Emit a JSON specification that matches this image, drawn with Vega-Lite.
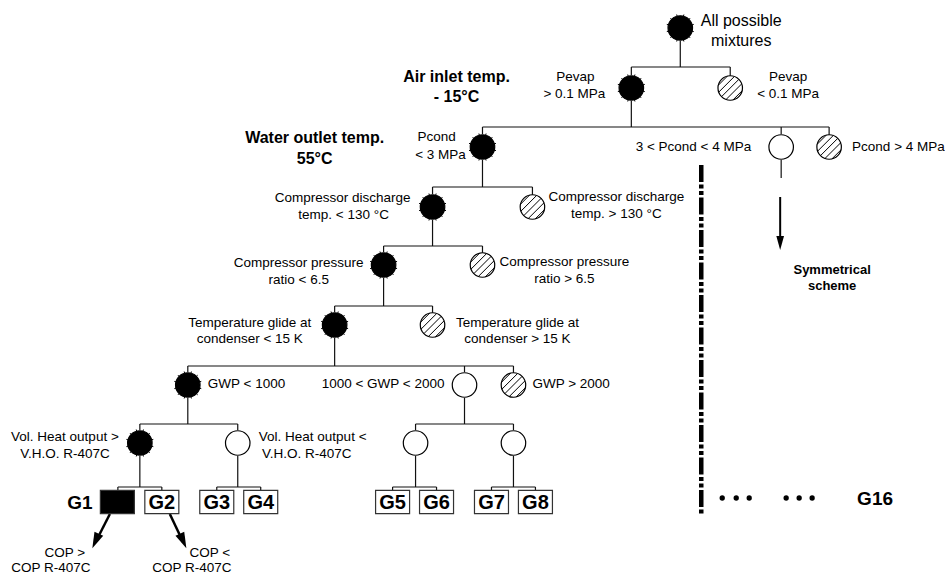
{
  "$schema": "https://vega.github.io/schema/vega-lite/v6.json",
  "width": 945,
  "height": 576,
  "padding": 0,
  "autosize": {"type": "fit", "contains": "padding"},
  "background": "white",
  "config": {"view": {"stroke": null}},
  "datasets": {
    "edges": [
      {"x": 681, "y": 41, "x2": 681, "y2": 67}, {"x": 632, "y": 67, "x2": 731, "y2": 67}, {"x": 632, "y": 67, "x2": 632, "y2": 75}, {"x": 731, "y": 67, "x2": 731, "y2": 76},
      {"x": 632, "y": 101, "x2": 632, "y2": 127}, {"x": 483, "y": 127, "x2": 830, "y2": 127}, {"x": 483, "y": 127, "x2": 483, "y2": 134}, {"x": 782, "y": 127, "x2": 782, "y2": 134}, {"x": 830, "y": 127, "x2": 830, "y2": 135},
      {"x": 782, "y": 160, "x2": 782, "y2": 178},
      {"x": 483, "y": 160, "x2": 483, "y2": 187}, {"x": 433, "y": 187, "x2": 533, "y2": 187}, {"x": 433, "y": 187, "x2": 433, "y2": 194}, {"x": 533, "y": 187, "x2": 533, "y2": 195},
      {"x": 433, "y": 220, "x2": 433, "y2": 246}, {"x": 384, "y": 246, "x2": 483, "y2": 246}, {"x": 384, "y": 246, "x2": 384, "y2": 252}, {"x": 483, "y": 246, "x2": 483, "y2": 253},
      {"x": 384, "y": 278, "x2": 384, "y2": 306}, {"x": 335, "y": 306, "x2": 433, "y2": 306}, {"x": 335, "y": 306, "x2": 335, "y2": 312}, {"x": 433, "y": 306, "x2": 433, "y2": 313},
      {"x": 335, "y": 338, "x2": 335, "y2": 366}, {"x": 188, "y": 366, "x2": 514, "y2": 366}, {"x": 188, "y": 366, "x2": 188, "y2": 372}, {"x": 465, "y": 366, "x2": 465, "y2": 372}, {"x": 514, "y": 366, "x2": 514, "y2": 373},
      {"x": 188, "y": 398, "x2": 188, "y2": 424}, {"x": 140, "y": 424, "x2": 238, "y2": 424}, {"x": 140, "y": 424, "x2": 140, "y2": 430}, {"x": 238, "y": 424, "x2": 238, "y2": 430},
      {"x": 465, "y": 398, "x2": 465, "y2": 424}, {"x": 416, "y": 424, "x2": 514, "y2": 424}, {"x": 416, "y": 424, "x2": 416, "y2": 430}, {"x": 514, "y": 424, "x2": 514, "y2": 430},
      {"x": 140, "y": 456, "x2": 140, "y2": 487}, {"x": 118, "y": 487, "x2": 162, "y2": 487}, {"x": 118, "y": 487, "x2": 118, "y2": 491}, {"x": 162, "y": 487, "x2": 162, "y2": 491},
      {"x": 238, "y": 456, "x2": 238, "y2": 487}, {"x": 217, "y": 487, "x2": 261, "y2": 487}, {"x": 217, "y": 487, "x2": 217, "y2": 491}, {"x": 261, "y": 487, "x2": 261, "y2": 491},
      {"x": 416, "y": 456, "x2": 416, "y2": 487}, {"x": 393, "y": 487, "x2": 437, "y2": 487}, {"x": 393, "y": 487, "x2": 393, "y2": 491}, {"x": 437, "y": 487, "x2": 437, "y2": 491},
      {"x": 514, "y": 456, "x2": 514, "y2": 487}, {"x": 492, "y": 487, "x2": 536, "y2": 487}, {"x": 492, "y": 487, "x2": 492, "y2": 491}, {"x": 536, "y": 487, "x2": 536, "y2": 491}
    ],
    "nodes": [
      {"x": 681, "y": 28, "kind": "filled"},
      {"x": 632, "y": 88, "kind": "filled"}, {"x": 731, "y": 88, "kind": "hatch"},
      {"x": 483, "y": 147, "kind": "filled"}, {"x": 782, "y": 147, "kind": "open"}, {"x": 830, "y": 147, "kind": "hatch"},
      {"x": 433, "y": 207, "kind": "filled"}, {"x": 533, "y": 207, "kind": "hatch"},
      {"x": 384, "y": 265, "kind": "filled"}, {"x": 483, "y": 265, "kind": "hatch"},
      {"x": 335, "y": 325, "kind": "filled"}, {"x": 433, "y": 325, "kind": "hatch"},
      {"x": 188, "y": 385, "kind": "filled"}, {"x": 465, "y": 385, "kind": "open"}, {"x": 514, "y": 385, "kind": "hatch"},
      {"x": 140, "y": 443, "kind": "filled"}, {"x": 238, "y": 443, "kind": "open"},
      {"x": 416, "y": 443, "kind": "open"}, {"x": 514, "y": 443, "kind": "open"}
    ],
    "boxes": [
      {"x": 117.5, "y": 502, "g": "G1", "kind": "filled"},
      {"x": 162, "y": 502, "g": "G2", "kind": "open"},
      {"x": 217, "y": 502, "g": "G3", "kind": "open"},
      {"x": 261, "y": 502, "g": "G4", "kind": "open"},
      {"x": 393, "y": 502, "g": "G5", "kind": "open"},
      {"x": 437, "y": 502, "g": "G6", "kind": "open"},
      {"x": 492, "y": 502, "g": "G7", "kind": "open"},
      {"x": 536, "y": 502, "g": "G8", "kind": "open"}
    ]
  },
  "layer": [
    {
      "data": {"name": "edges"},
      "mark": {"type": "rule", "color": "#111", "strokeWidth": 1.2},
      "encoding": {
        "x": {"field": "x", "type": "quantitative", "scale": {"domain": [0, 945], "nice": false, "zero": false}, "axis": null},
        "y": {"field": "y", "type": "quantitative", "scale": {"domain": [0, 576], "nice": false, "zero": false, "reverse": true}, "axis": null},
        "x2": {"field": "x2"},
        "y2": {"field": "y2"}
      }
    },
    {
      "data": {"values": [{"x": 702, "y": 165, "x2": 702, "y2": 515}]},
      "mark": {"type": "rule", "color": "#000", "strokeWidth": 4.5, "strokeDash": [17, 2.5, 4, 2.5, 4, 2.5]},
      "encoding": {
        "x": {"field": "x", "type": "quantitative", "axis": null},
        "y": {"field": "y", "type": "quantitative", "axis": null},
        "x2": {"field": "x2"},
        "y2": {"field": "y2"}
      }
    },
    {
      "data": {"values": [
        {"x": 110, "y": 514, "x2": 95.7, "y2": 542},
        {"x": 170, "y": 514, "x2": 183.3, "y2": 542}
      ]},
      "mark": {"type": "rule", "color": "#000", "strokeWidth": 2.5},
      "encoding": {
        "x": {"field": "x", "type": "quantitative", "axis": null},
        "y": {"field": "y", "type": "quantitative", "axis": null},
        "x2": {"field": "x2"},
        "y2": {"field": "y2"}
      }
    },
    {
      "data": {"values": [{"x": 781, "y": 197, "x2": 781, "y2": 243}]},
      "mark": {"type": "rule", "color": "#000", "strokeWidth": 2},
      "encoding": {
        "x": {"field": "x", "type": "quantitative", "axis": null},
        "y": {"field": "y", "type": "quantitative", "axis": null},
        "x2": {"field": "x2"},
        "y2": {"field": "y2"}
      }
    },
    {
      "data": {"values": [{"x": 95.7, "y": 541}]},
      "mark": {"type": "point", "shape": "M -0.6 -1 L 0.6 -1 L 0 1 Z", "size": 256, "angle": 24, "filled": true, "color": "#000", "opacity": 1},
      "encoding": {
        "x": {"field": "x", "type": "quantitative", "axis": null},
        "y": {"field": "y", "type": "quantitative", "axis": null}
      }
    },
    {
      "data": {"values": [{"x": 183.3, "y": 541}]},
      "mark": {"type": "point", "shape": "M -0.6 -1 L 0.6 -1 L 0 1 Z", "size": 256, "angle": -24, "filled": true, "color": "#000", "opacity": 1},
      "encoding": {
        "x": {"field": "x", "type": "quantitative", "axis": null},
        "y": {"field": "y", "type": "quantitative", "axis": null}
      }
    },
    {
      "data": {"values": [{"x": 781, "y": 243}]},
      "mark": {"type": "point", "shape": "M -0.55 -1 L 0.55 -1 L 0 1 Z", "size": 196, "filled": true, "color": "#000", "opacity": 1},
      "encoding": {
        "x": {"field": "x", "type": "quantitative", "axis": null},
        "y": {"field": "y", "type": "quantitative", "axis": null}
      }
    },
    {
      "data": {"name": "nodes"},
      "mark": {"type": "point", "shape": "circle", "size": 600, "filled": true, "stroke": "#000", "strokeWidth": 1.2, "opacity": 1},
      "encoding": {
        "x": {"field": "x", "type": "quantitative", "axis": null},
        "y": {"field": "y", "type": "quantitative", "axis": null},
        "fill": {"field": "kind", "type": "nominal", "scale": {"domain": ["filled", "open", "hatch"], "range": ["#000000", "#ffffff", "#ffffff"]}, "legend": null}
      }
    },
    {
      "data": {"name": "nodes"},
      "transform": [{"filter": "datum.kind === 'hatch'"}],
      "mark": {"type": "point", "shape": "M -0.974 -0.226 L -0.226 -0.974 M -0.940 0.340 L 0.340 -0.940 M -0.707 0.707 L 0.707 -0.707 M -0.340 0.940 L 0.940 -0.340 M 0.226 0.974 L 0.974 0.226", "size": 600, "filled": false, "stroke": "#000", "strokeWidth": 1, "opacity": 1},
      "encoding": {
        "x": {"field": "x", "type": "quantitative", "axis": null},
        "y": {"field": "y", "type": "quantitative", "axis": null}
      }
    },
    {
      "data": {"name": "nodes"},
      "transform": [{"filter": "datum.kind === 'filled'"}],
      "mark": {"type": "point", "shape": "M 0.917 0.246 L 1.1 0.295 M 0.672 0.672 L 0.806 0.806 M 0.246 0.917 L 0.295 1.1 M -0.246 0.917 L -0.295 1.1 M -0.672 0.672 L -0.806 0.806 M -0.917 0.246 L -1.1 0.295 M -0.917 -0.246 L -1.1 -0.295 M -0.672 -0.672 L -0.806 -0.806 M -0.246 -0.917 L -0.295 -1.1 M 0.246 -0.917 L 0.295 -1.1 M 0.672 -0.672 L 0.806 -0.806 M 0.917 -0.246 L 1.1 -0.295", "size": 600, "filled": false, "stroke": "#000", "strokeWidth": 1, "opacity": 1},
      "encoding": {
        "x": {"field": "x", "type": "quantitative", "axis": null},
        "y": {"field": "y", "type": "quantitative", "axis": null}
      }
    },
    {
      "data": {"name": "boxes"},
      "mark": {"type": "point", "shape": "M -1 -0.68 L 1 -0.68 L 1 0.68 L -1 0.68 Z", "size": 1156, "filled": true, "stroke": "#333", "strokeWidth": 1.2, "opacity": 1},
      "encoding": {
        "x": {"field": "x", "type": "quantitative", "axis": null},
        "y": {"field": "y", "type": "quantitative", "axis": null},
        "fill": {"field": "kind", "type": "nominal", "scale": {"domain": ["filled", "open", "hatch"], "range": ["#000000", "#ffffff", "#ffffff"]}, "legend": null}
      }
    },
    {
      "data": {"name": "boxes"},
      "transform": [{"filter": "datum.kind === 'open'"}],
      "mark": {"type": "text", "font": "Liberation Sans", "fontWeight": "bold", "fontSize": 20, "align": "center", "baseline": "middle", "color": "#000", "dy": 1},
      "encoding": {
        "x": {"field": "x", "type": "quantitative", "axis": null},
        "y": {"field": "y", "type": "quantitative", "axis": null},
        "text": {"field": "g"}
      }
    },
    {
      "data": {"values": [
        {"x": 80, "y": 502, "t": "G1"},
        {"x": 876, "y": 498, "t": "G16"}
      ]},
      "mark": {"type": "text", "font": "Liberation Sans", "fontWeight": "bold", "fontSize": 19, "align": "center", "baseline": "middle", "color": "#000", "dy": 1},
      "encoding": {
        "x": {"field": "x", "type": "quantitative", "axis": null},
        "y": {"field": "y", "type": "quantitative", "axis": null},
        "text": {"field": "t"}
      }
    },
    {
      "data": {"values": [
        {"x": 723, "y": 498}, {"x": 737, "y": 498}, {"x": 750, "y": 498},
        {"x": 787, "y": 498}, {"x": 800, "y": 498}, {"x": 813, "y": 498}
      ]},
      "mark": {"type": "point", "shape": "circle", "size": 28, "filled": true, "color": "#000", "opacity": 1},
      "encoding": {
        "x": {"field": "x", "type": "quantitative", "axis": null},
        "y": {"field": "y", "type": "quantitative", "axis": null}
      }
    },
    {
      "data": {"values": [
        {"x": 742, "y": 21, "t": "All possible"},
        {"x": 742, "y": 41, "t": "mixtures"}
      ]},
      "mark": {"type": "text", "font": "Liberation Sans", "fontSize": 16, "align": "center", "baseline": "middle", "color": "#000"},
      "encoding": {
        "x": {"field": "x", "type": "quantitative", "axis": null},
        "y": {"field": "y", "type": "quantitative", "axis": null},
        "text": {"field": "t"}
      }
    },
    {
      "data": {"values": [
        {"x": 457, "y": 77, "t": "Air inlet temp."},
        {"x": 457, "y": 97, "t": "- 15°C"},
        {"x": 315, "y": 138, "t": "Water outlet temp."},
        {"x": 315, "y": 159, "t": "55°C"}
      ]},
      "mark": {"type": "text", "font": "Liberation Sans", "fontWeight": "bold", "fontSize": 16, "align": "center", "baseline": "middle", "color": "#000"},
      "encoding": {
        "x": {"field": "x", "type": "quantitative", "axis": null},
        "y": {"field": "y", "type": "quantitative", "axis": null},
        "text": {"field": "t"}
      }
    },
    {
      "data": {"values": [
        {"x": 833, "y": 270, "t": "Symmetrical"},
        {"x": 833, "y": 286, "t": "scheme"}
      ]},
      "mark": {"type": "text", "font": "Liberation Sans", "fontWeight": "bold", "fontSize": 13, "align": "center", "baseline": "middle", "color": "#000"},
      "encoding": {
        "x": {"field": "x", "type": "quantitative", "axis": null},
        "y": {"field": "y", "type": "quantitative", "axis": null},
        "text": {"field": "t"}
      }
    },
    {
      "data": {"values": [
        {"x": 576, "y": 77, "t": "Pevap"},
        {"x": 575, "y": 94, "t": "> 0.1 MPa"},
        {"x": 789, "y": 77, "t": "Pevap"},
        {"x": 789, "y": 94, "t": "< 0.1 MPa"},
        {"x": 437, "y": 137, "t": "Pcond"},
        {"x": 441, "y": 155, "t": "< 3 MPa"},
        {"x": 343, "y": 198, "t": "Compressor discharge"},
        {"x": 344, "y": 215, "t": "temp. < 130 °C"},
        {"x": 617, "y": 197, "t": "Compressor discharge"},
        {"x": 617, "y": 214, "t": "temp. > 130 °C"},
        {"x": 299, "y": 263, "t": "Compressor pressure"},
        {"x": 299, "y": 280, "t": "ratio < 6.5"},
        {"x": 565, "y": 262, "t": "Compressor pressure"},
        {"x": 565, "y": 279, "t": "ratio > 6.5"},
        {"x": 250, "y": 323, "t": "Temperature glide at"},
        {"x": 250, "y": 339, "t": "condenser < 15 K"},
        {"x": 518, "y": 323, "t": "Temperature glide at"},
        {"x": 518, "y": 339, "t": "condenser > 15 K"},
        {"x": 65, "y": 437, "t": "Vol. Heat output >"},
        {"x": 65, "y": 454, "t": "V.H.O. R-407C"},
        {"x": 313, "y": 437, "t": "Vol. Heat output <"},
        {"x": 307, "y": 454, "t": "V.H.O. R-407C"},
        {"x": 65, "y": 553, "t": "COP >"},
        {"x": 51, "y": 568, "t": "COP R-407C"},
        {"x": 210, "y": 553, "t": "COP <"},
        {"x": 192, "y": 568, "t": "COP R-407C"}
      ]},
      "mark": {"type": "text", "font": "Liberation Sans", "fontSize": 13.5, "align": "center", "baseline": "middle", "color": "#000"},
      "encoding": {
        "x": {"field": "x", "type": "quantitative", "axis": null},
        "y": {"field": "y", "type": "quantitative", "axis": null},
        "text": {"field": "t"}
      }
    },
    {
      "data": {"values": [
        {"x": 208, "y": 384, "t": "GWP < 1000"},
        {"x": 533, "y": 384, "t": "GWP > 2000"},
        {"x": 853, "y": 147, "t": "Pcond > 4 MPa"}
      ]},
      "mark": {"type": "text", "font": "Liberation Sans", "fontSize": 13.5, "align": "left", "baseline": "middle", "color": "#000"},
      "encoding": {
        "x": {"field": "x", "type": "quantitative", "axis": null},
        "y": {"field": "y", "type": "quantitative", "axis": null},
        "text": {"field": "t"}
      }
    },
    {
      "data": {"values": [
        {"x": 445, "y": 384, "t": "1000 < GWP < 2000"},
        {"x": 752, "y": 147, "t": "3 < Pcond < 4 MPa"}
      ]},
      "mark": {"type": "text", "font": "Liberation Sans", "fontSize": 13.5, "align": "right", "baseline": "middle", "color": "#000"},
      "encoding": {
        "x": {"field": "x", "type": "quantitative", "axis": null},
        "y": {"field": "y", "type": "quantitative", "axis": null},
        "text": {"field": "t"}
      }
    }
  ]
}
